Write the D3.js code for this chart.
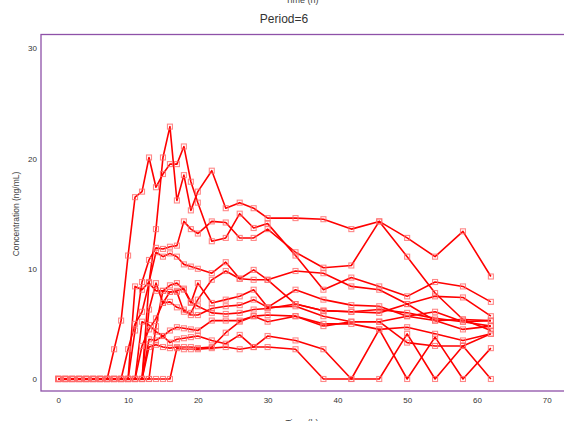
<!DOCTYPE html>
<html>
<head>
<meta charset="utf-8">
<script src="https://cdn.jsdelivr.net/npm/d3@7"></script>
<style>
  html, body { margin: 0; padding: 0; background: #fff; }
  svg { display: block; }
  text { font-family: "Liberation Sans", Arial, sans-serif; }
</style>
</head>
<body>
<svg id="chart" width="564" height="421"></svg>
<script>
// Sampling times (h)
const times = [0,1,2,3,4,5,6,7,8,9,10,11,12,13,14,15,16,17,18,19,20,22,24,26,28,30,34,38,42,46,50,54,58,62];

// Concentration (ng/mL) per subject, one value per sampling time
const subj01 = [0,0,0,0,0,0,0,0,2.7,5.3,11.2,16.5,17.0,20.1,17.4,18.6,19.5,19.5,21.1,17.9,16.0,12.5,12.8,15.0,13.7,14.1,11.2,8.1,9.2,8.4,7.5,8.8,8.4,7.0];
const subj02 = [0,0,0,0,0,0,0,0,0,0,0,0,0,8.7,13.6,20.1,22.9,16.2,18.5,15.3,17.0,18.9,15.5,16.0,15.5,14.6,14.6,14.5,13.6,14.3,12.8,11.1,13.4,9.3];
const subj03 = [0,0,0,0,0,0,0,0,0,0,0,4.4,8.8,10.8,11.9,11.8,12.0,12.1,14.3,13.6,13.2,14.3,14.2,12.8,12.8,13.6,11.5,10.1,10.3,14.3,11.1,7.8,5.4,4.4];
const subj04 = [0,0,0,0,0,0,0,0,0,0,2.7,5.0,6.1,8.7,8.0,8.0,8.5,8.7,8.1,6.9,8.7,6.9,7.2,7.5,8.1,6.5,8.1,7.2,6.7,6.6,5.7,6.1,5.2,5.3];
const subj05 = [0,0,0,0,0,0,0,0,0,0,0,0,0,6.3,8.7,6.9,7.9,7.9,6.1,6.0,7.2,9.0,9.8,9.1,9.0,9.0,6.8,6.2,6.1,6.0,6.8,5.3,4.5,4.8];
const subj06 = [0,0,0,0,0,0,0,0,0,0,0,0,3.0,4.5,5.5,6.9,7.0,6.5,6.3,5.8,5.8,6.4,6.6,6.7,7.2,6.5,6.6,5.7,5.2,5.2,5.7,5.3,5.4,5.3];
const subj07 = [0,0,0,0,0,0,0,0,0,0,0,0,5.2,4.9,4.3,3.9,4.4,4.7,4.6,4.5,4.4,5.3,5.3,5.3,5.7,5.8,5.7,5.0,5.0,4.5,4.7,4.1,3.5,4.1];
const subj08 = [0,0,0,0,0,0,0,0,0,0,0,0,0,2.9,3.1,2.9,2.8,2.9,2.9,2.9,2.8,2.9,4.2,5.2,5.7,5.2,5.7,4.8,5.2,5.2,3.3,3.0,3.0,4.1];
const subj09 = [0,0,0,0,0,0,0,0,0,0,0,0,0,0,0,0,0,2.8,2.7,2.7,2.7,2.8,2.9,2.7,2.9,2.9,2.7,0,0,0,4.1,0,3.0,0];
const subj10 = [0,0,0,0,0,0,0,0,0,0,0,0,0,3.6,3.5,3.9,3.3,3.6,3.7,3.8,3.9,3.5,3.2,4.0,2.9,3.9,3.5,2.7,0,4.5,0,3.8,0,2.8];
const subj11 = [0,0,0,0,0,0,0,0,0,0,0,0,0,0,4.8,8.0,7.9,8.0,8.2,7.0,6.6,6.0,5.9,6.0,6.3,6.4,6.8,6.2,6.1,6.3,6.0,5.5,5.2,4.8];
const subj12 = [0,0,0,0,0,0,0,0,0,0,0,8.4,8.1,8.8,11.5,11.1,11.4,11.1,10.4,10.2,10.0,9.6,10.6,9.1,9.9,9.0,9.8,9.6,8.4,8.1,6.8,7.5,7.4,5.7];

const subjects = [subj01, subj02, subj03, subj04, subj05, subj06, subj07, subj08, subj09, subj10, subj11, subj12];

const xTicks = [0, 10, 20, 30, 40, 50, 60, 70];
const yTicks = [0, 10, 20, 30];

const panelTitle = "Period=6";
const xLabel = "Time (h)";
const yLabel = "Concentration (ng/mL)";

const svg = d3.select("#chart");

// Scales: the panel runs a little past both ends of the tick range
const x = d3.scaleLinear().domain([-2.48, 75]).range([41, 41 + 77.48 * 6.977]);
const y = d3.scaleLinear().domain([-1.09, 31.26]).range([391, 34.5]);

// Axis title of the panel above, clipped by the top edge
svg.append("text")
  .attr("x", 302).attr("y", 3)
  .attr("text-anchor", "middle")
  .attr("font-size", 9).attr("fill", "#444")
  .text(xLabel);

// Panel title
svg.append("text")
  .attr("x", 284).attr("y", 23)
  .attr("text-anchor", "middle")
  .attr("font-size", 12).attr("fill", "#333")
  .text(panelTitle);

// Panel frame
svg.append("rect")
  .attr("x", x(-2.48)).attr("y", y(31.26))
  .attr("width", x(75) - x(-2.48))
  .attr("height", y(-1.09) - y(31.26))
  .attr("fill", "none")
  .attr("stroke", "#8e51a8")
  .attr("stroke-width", 1.3);

// Axes (labels only)
const xAxis = svg.append("g")
  .attr("transform", `translate(0,${y(-1.09)})`)
  .call(d3.axisBottom(x).tickValues(xTicks).tickSize(0).tickPadding(6).tickFormat(d3.format("d")));
const yAxis = svg.append("g")
  .attr("transform", `translate(${x(-2.48)},0)`)
  .call(d3.axisLeft(y).tickValues(yTicks).tickSize(0).tickPadding(4).tickFormat(d3.format("d")));
[xAxis, yAxis].forEach(g => {
  g.select(".domain").remove();
  g.selectAll("text")
    .attr("font-size", 8)
    .attr("fill", "#333")
    .attr("font-family", "Liberation Sans, Arial, sans-serif");
});

// Axis titles
svg.append("text")
  .attr("x", 302).attr("y", 426)
  .attr("text-anchor", "middle")
  .attr("font-size", 9).attr("fill", "#444")
  .text(xLabel);
svg.append("text")
  .attr("transform", `translate(19,${214}) rotate(-90)`)
  .attr("text-anchor", "middle")
  .attr("font-size", 8.5).attr("fill", "#444")
  .text(yLabel);

// Concentration-time profiles
const line = d3.line()
  .defined(d => d.c != null)
  .x(d => x(d.t))
  .y(d => y(d.c));

const profiles = subjects.map(vals => vals.map((c, i) => ({ t: times[i], c })));

const g = svg.append("g");
g.selectAll("path.profile")
  .data(profiles)
  .join("path")
  .attr("class", "profile")
  .attr("d", line)
  .attr("fill", "none")
  .attr("stroke", "#ff0000")
  .attr("stroke-width", 1.6)
  .attr("stroke-linejoin", "round");

const sq = 5;
g.selectAll("g.markers")
  .data(profiles)
  .join("g")
  .attr("class", "markers")
  .selectAll("rect")
  .data(d => d.filter(p => p.c != null))
  .join("rect")
  .attr("x", d => x(d.t) - sq / 2)
  .attr("y", d => y(d.c) - sq / 2)
  .attr("width", sq).attr("height", sq)
  .attr("fill", "none")
  .attr("stroke", "#ff6a6a")
  .attr("stroke-opacity", 0.8)
  .attr("stroke-width", 1.1);
</script>
</body>
</html>
